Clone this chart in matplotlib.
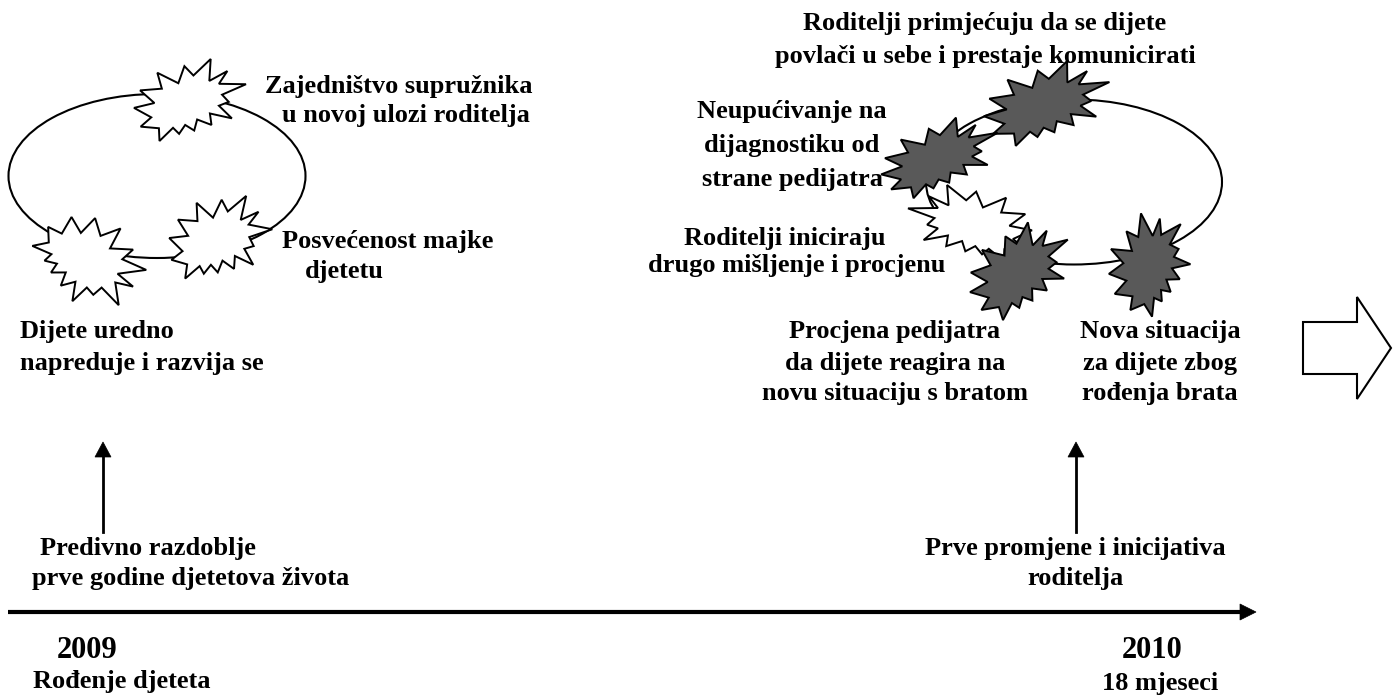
import matplotlib
matplotlib.use("Agg")
import matplotlib.pyplot as plt
from matplotlib.patches import Ellipse, Polygon
import numpy as np

# ---- content ----
years = ["2009", "2010"]
year_notes = ["Rođenje djeteta", "18 mjeseci"]
period_labels = [["Predivno razdoblje", "prve godine djetetova života"],
                 ["Prve promjene i inicijativa", "roditelja"]]
left_labels = [["Zajedništvo supružnika", "u novoj ulozi roditelja"],
               ["Posvećenost majke", "djetetu"],
               ["Dijete uredno", "napreduje i razvija se"]]
right_labels = [["Roditelji primjećuju da se dijete", "povlači u sebe i prestaje komunicirati"],
                ["Neupućivanje na", "dijagnostiku od", "strane pedijatra"],
                ["Roditelji iniciraju", "drugo mišljenje i procjenu"],
                ["Procjena pedijatra", "da dijete reagira na", "novu situaciju s bratom"],
                ["Nova situacija", "za dijete zbog", "rođenja brata"]]

FONT = "Liberation Serif"
FS = 19
DARK = "#595959"

# Word "Explosion 2" outline (21600 units)
SEAL = np.array([
    (11462, 4342), (14790, 0), (14525, 5777), (18007, 3172), (16380, 6532),
    (21600, 6645), (16985, 9402), (18270, 11290), (16380, 12310), (18877, 15632),
    (14640, 14350), (14942, 17370), (12180, 15935), (11612, 18842), (9872, 17370),
    (8700, 19712), (7527, 18125), (4917, 21600), (4805, 18240), (1285, 17825),
    (3330, 15370), (0, 12877), (3935, 11592), (1172, 8270), (5372, 7817),
    (4502, 3625), (8550, 6382), (9722, 1887)], dtype=float) / 21600.0 - 0.5


def star(ax, cx, cy, w, h, rot=0.0, dark=False, flip=False):
    p = SEAL.copy()
    if flip:
        p[:, 0] = -p[:, 0]
    p[:, 0] *= w
    p[:, 1] *= h
    a = np.deg2rad(rot)
    R = np.array([[np.cos(a), -np.sin(a)], [np.sin(a), np.cos(a)]])
    p = p @ R.T
    p[:, 0] += cx
    p[:, 1] += cy
    ax.add_patch(Polygon(p, closed=True, fc=DARK if dark else "white",
                         ec="black", lw=1.4, zorder=3))


fig = plt.figure(figsize=(13.96, 6.95), dpi=100)
ax = fig.add_axes([0, 0, 1, 1])
ax.set_xlim(0, 1396)
ax.set_ylim(695, 0)
ax.axis("off")


def txt(x, y, s, ha="left", size=FS):
    ax.text(x, y, s, ha=ha, va="baseline", fontsize=size,
            fontfamily=FONT, fontweight="bold", zorder=5)


# ellipses
ax.add_patch(Ellipse((157, 176), 297, 164, fill=False, ec="black", lw=1.5, zorder=1))
ax.add_patch(Ellipse((1074, 182), 296, 165, fill=False, ec="black", lw=1.5, zorder=1))

# left starbursts (white)
star(ax, 190, 100, 112, 82, rot=0)
star(ax, 220, 238, 100, 92, rot=10)
star(ax, 90, 262, 95, 108, rot=80)

# right starbursts
star(ax, 1047, 103, 128, 80, rot=-5, dark=True)
star(ax, 940, 157, 122, 72, rot=-10, dark=True)
star(ax, 970, 223, 124, 76, rot=0, flip=True)
star(ax, 1020, 270, 108, 88, rot=-15, dark=True)
star(ax, 1150, 263, 92, 95, rot=-30, dark=True)

# block arrow
ax.add_patch(Polygon([(1303, 322), (1357, 322), (1357, 297), (1391, 348),
                      (1357, 399), (1357, 374), (1303, 374)],
                     closed=True, fc="white", ec="black", lw=1.5))

# timeline
ax.plot([8, 1242], [612, 612], color="black", lw=3, solid_capstyle="butt")
ax.add_patch(Polygon([(1240, 604), (1256, 612), (1240, 620)], closed=True,
                     fc="black", ec="black", lw=0.5))

# vertical arrows
for x in (103, 1076):
    ax.plot([x, x], [532, 455], color="black", lw=2)
    ax.add_patch(Polygon([(x - 8, 457), (x, 442), (x + 8, 457)], closed=True,
                         fc="black", ec="black", lw=0.5))

# years and notes
txt(57, 658, years[0], size=22)
txt(33, 688, year_notes[0])
txt(1122, 658, years[1], size=22)
txt(1102, 690, year_notes[1])

# period labels
txt(40, 555, period_labels[0][0])
txt(32, 585, period_labels[0][1])
txt(1075, 555, period_labels[1][0], ha="center")
txt(1075, 585, period_labels[1][1], ha="center")

# left group
txt(265, 93, left_labels[0][0])
txt(282, 122, left_labels[0][1])
txt(282, 248, left_labels[1][0])
txt(305, 278, left_labels[1][1])
txt(20, 338, left_labels[2][0])
txt(20, 370, left_labels[2][1])

# right group
txt(985, 30, right_labels[0][0], ha="center")
txt(985, 63, right_labels[0][1], ha="center")
for i, y in enumerate((118, 152, 186)):
    txt(792, y, right_labels[1][i], ha="center")
txt(885, 245, right_labels[2][0], ha="right")
txt(945, 272, right_labels[2][1], ha="right")
for i, y in enumerate((338, 370, 400)):
    txt(895, y, right_labels[3][i], ha="center")
for i, y in enumerate((338, 370, 400)):
    txt(1160, y, right_labels[4][i], ha="center")

fig.savefig("out.png", dpi=100)
